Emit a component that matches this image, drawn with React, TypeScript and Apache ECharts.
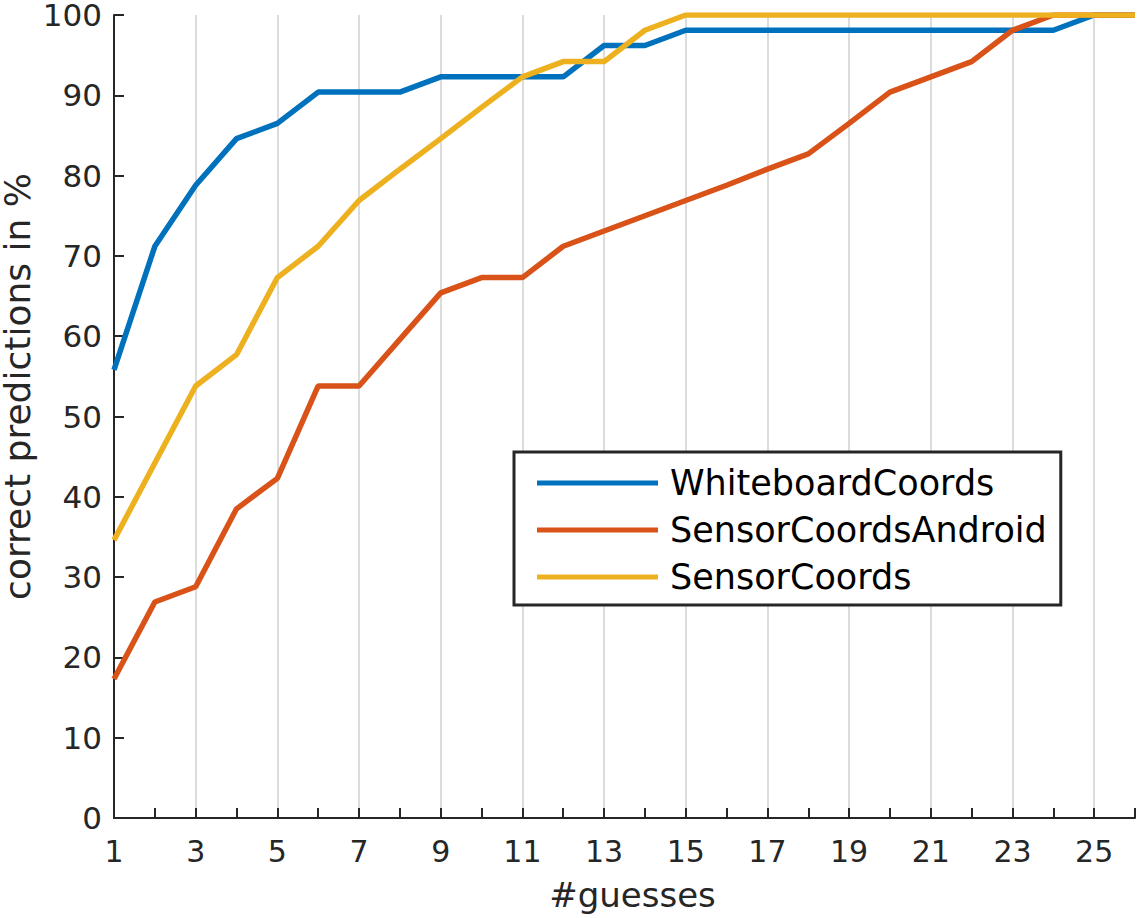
import React, { useEffect, useRef } from "react";
import * as echarts from "echarts";

// Number of guesses (x) and the share of correct predictions per model (y, %)
const guesses = [1, 2, 3, 4, 5, 6, 7, 8, 9, 10, 11, 12, 13, 14, 15, 16, 17, 18, 19, 20, 21, 22, 23, 24, 25, 26];
const whiteboardCoords = [55.8, 71.2, 78.8, 84.6, 86.5, 90.4, 90.4, 90.4, 92.3, 92.3, 92.3, 92.3, 96.2, 96.2, 98.1, 98.1, 98.1, 98.1, 98.1, 98.1, 98.1, 98.1, 98.1, 98.1, 100, 100];
const sensorCoordsAndroid = [17.3, 26.9, 28.8, 38.5, 42.3, 53.8, 53.8, 59.6, 65.4, 67.3, 67.3, 71.2, 73.1, 75.0, 76.9, 78.8, 80.8, 82.7, 86.5, 90.4, 92.3, 94.2, 98.1, 100, 100, 100];
const sensorCoords = [34.6, 44.2, 53.8, 57.7, 67.3, 71.2, 76.9, 80.8, 84.6, 88.5, 92.3, 94.2, 94.2, 98.1, 100, 100, 100, 100, 100, 100, 100, 100, 100, 100, 100, 100];

const seriesNames = ["WhiteboardCoords", "SensorCoordsAndroid", "SensorCoords"];
const seriesColors = ["#0072BD", "#D95319", "#EDB120"];
const seriesValues = [whiteboardCoords, sensorCoordsAndroid, sensorCoords];

const FONT = "DejaVu Sans";
const AXIS_COLOR = "#262626";

export default function App() {
  const ref = useRef<HTMLDivElement>(null);

  useEffect(() => {
    if (!ref.current) return;
    const chart = echarts.init(ref.current, null, { renderer: "svg" });

    const series = seriesValues.map((vals, i) => ({
      name: seriesNames[i],
      type: "line",
      xAxisIndex: 0,
      yAxisIndex: 0,
      symbol: "none",
      data: guesses.map((g, k) => [g, vals[k]]),
      lineStyle: { color: seriesColors[i], width: 5.5 },
      itemStyle: { color: seriesColors[i] },
      z: 3 + i,
    }));

    chart.setOption({
      animation: false,
      backgroundColor: "#ffffff",
      textStyle: { fontFamily: FONT },
      grid: {
        left: 114,
        right: 5,
        top: 15,
        bottom: 100,
        containLabel: false,
        outerBoundsMode: "none",
      },
      legend: {
        orient: "vertical",
        left: 514,
        top: 452,
        padding: [10, 14, 7, 23],
        icon: "rect",
        itemWidth: 121,
        itemHeight: 5,
        itemGap: 5,
        backgroundColor: "#ffffff",
        borderColor: AXIS_COLOR,
        borderWidth: 3,
        borderRadius: 0,
        textStyle: {
          fontFamily: FONT,
          fontSize: 35,
          color: "#000000",
          lineHeight: 42,
          padding: [0, 0, 0, 7],
        },
        data: seriesNames,
      },
      xAxis: [
        {
          type: "value",
          min: 1,
          max: 26,
          interval: 2,
          name: "#guesses",
          nameLocation: "middle",
          nameGap: 60,
          nameMoveOverlap: false,
          nameTextStyle: {
            fontFamily: FONT,
            fontSize: 34,
            color: AXIS_COLOR,
            padding: [0, 0, 0, 16],
          },
          axisLine: { show: true, onZero: false, lineStyle: { color: AXIS_COLOR, width: 2 } },
          axisTick: { show: false },
          axisLabel: {
            fontFamily: FONT,
            fontSize: 30,
            color: AXIS_COLOR,
            margin: 18,
            showMaxLabel: false,
          },
          splitLine: {
            show: true,
            showMinLine: false,
            showMaxLine: false,
            lineStyle: { color: "#dcdcdc", width: 2 },
          },
        },
        {
          // unlabelled axis carrying a tick at every guess
          type: "value",
          min: 1,
          max: 26,
          interval: 1,
          position: "bottom",
          axisLine: { show: false, onZero: false },
          axisTick: { show: true, inside: true, length: 10, lineStyle: { color: AXIS_COLOR, width: 2 } },
          axisLabel: { show: false },
          splitLine: { show: false },
        },
      ],
      yAxis: {
        type: "value",
        min: 0,
        max: 100,
        interval: 10,
        name: "correct predictions in %",
        nameLocation: "middle",
        nameGap: 81,
        nameMoveOverlap: false,
        nameTextStyle: {
          fontFamily: FONT,
          fontSize: 36,
          lineHeight: 32,
          color: AXIS_COLOR,
          padding: [0, 0, 0, 60],
        },
        axisLine: { show: true, lineStyle: { color: AXIS_COLOR, width: 2 } },
        axisTick: { show: true, inside: true, length: 10, lineStyle: { color: AXIS_COLOR, width: 2 } },
        axisLabel: { fontFamily: FONT, fontSize: 31, lineHeight: 28, color: AXIS_COLOR, margin: 12 },
        splitLine: { show: false },
      },
      series,
    });

    return () => chart.dispose();
  }, []);

  return (
    <div
      ref={ref}
      style={{ position: "fixed", left: 0, top: 0, width: 1140, height: 918 }}
    />
  );
}
